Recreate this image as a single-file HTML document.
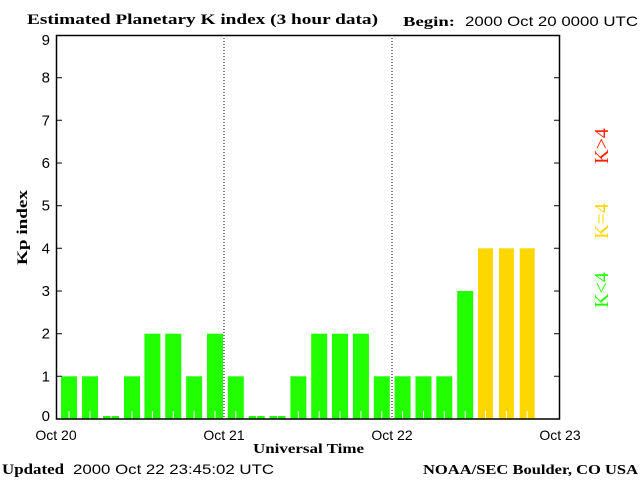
<!DOCTYPE html>
<html><head><style>body{margin:0;background:#fff}svg{display:block}</style></head><body>
<svg width="640" height="480" xmlns="http://www.w3.org/2000/svg" font-family="Liberation Sans, sans-serif">
<rect width="640" height="480" fill="#fff"/>
<text x="27" y="24" font-family="Liberation Serif, serif" font-weight="bold" font-size="15" textLength="351" lengthAdjust="spacingAndGlyphs">Estimated Planetary K index (3 hour data)</text>
<text x="403" y="26" font-family="Liberation Serif, serif" font-weight="bold" font-size="14" textLength="52" lengthAdjust="spacingAndGlyphs">Begin:</text>
<text x="465" y="26" font-size="14" textLength="173" lengthAdjust="spacingAndGlyphs">2000 Oct 20 0000 UTC</text>
<g fill="#22ff00">
<rect x="61" y="376.3" width="16" height="42.7"/>
<rect x="82" y="376.3" width="16" height="42.7"/>
<rect x="103" y="416" width="16" height="3"/>
<rect x="124" y="376.3" width="16" height="42.7"/>
<rect x="144.4" y="333.7" width="16" height="85.3"/>
<rect x="165.3" y="333.7" width="16" height="85.3"/>
<rect x="186.1" y="376.3" width="16" height="42.7"/>
<rect x="207" y="333.7" width="16" height="85.3"/>
<rect x="227.8" y="376.3" width="16" height="42.7"/>
<rect x="248.7" y="416" width="16" height="3"/>
<rect x="269.5" y="416" width="16" height="3"/>
<rect x="290.4" y="376.3" width="16" height="42.7"/>
<rect x="311.2" y="333.7" width="16" height="85.3"/>
<rect x="332" y="333.7" width="16" height="85.3"/>
<rect x="352.9" y="333.7" width="16" height="85.3"/>
<rect x="373.8" y="376.3" width="16" height="42.7"/>
<rect x="394.6" y="376.3" width="16" height="42.7"/>
<rect x="415.5" y="376.3" width="16" height="42.7"/>
<rect x="436.3" y="376.3" width="16" height="42.7"/>
<rect x="457.2" y="291" width="16" height="128"/>
</g>
<g fill="#ffd700">
<rect x="478" y="248.3" width="15" height="170.7"/>
<rect x="498.9" y="248.3" width="15" height="170.7"/>
<rect x="519.7" y="248.3" width="15" height="170.7"/>
</g>
<g stroke="#fff" stroke-width="1">
<path d="M69 411V419M90 411V419M111 411V419M132 411V419M152.4 411V419M173.3 411V419M194.1 411V419M215 411V419M235.8 411V419M256.7 411V419M277.5 411V419M298.4 411V419M319.2 411V419M340 411V419M360.9 411V419M381.8 411V419M402.6 411V419M423.5 411V419M444.3 411V419M465.2 411V419M485.5 411V419M506.4 411V419M527.2 411V419"/>
</g>
<line x1="224" y1="35" x2="224" y2="419" stroke="#000" stroke-dasharray="1,2"/>
<line x1="392" y1="35" x2="392" y2="419" stroke="#000" stroke-dasharray="1,2"/>
<rect x="56.5" y="35.5" width="503" height="383.5" fill="none" stroke="#000" stroke-width="1.5"/>
<g stroke="#000">
<path d="M56 376.3H62M56 333.7H62M56 291H62M56 248.3H62M56 205.7H62M56 163H62M56 120.3H62M56 77.7H62M554 376.3H560M554 333.7H560M554 291H560M554 248.3H560M554 205.7H560M554 163H560M554 120.3H560M554 77.7H560"/>
</g>
<g font-size="15" text-anchor="end">
<text x="50" y="421">0</text><text x="50" y="381.3">1</text><text x="50" y="338.7">2</text><text x="50" y="296">3</text><text x="50" y="253.3">4</text><text x="50" y="210.7">5</text><text x="50" y="168">6</text><text x="50" y="125.3">7</text><text x="50" y="82.7">8</text><text x="50" y="45">9</text>
</g>
<g font-size="14" text-anchor="middle">
<text x="56" y="440">Oct 20</text><text x="224" y="440">Oct 21</text><text x="392" y="440">Oct 22</text><text x="560" y="440">Oct 23</text>
</g>
<text x="253" y="453" font-family="Liberation Serif, serif" font-weight="bold" font-size="14" textLength="111" lengthAdjust="spacingAndGlyphs">Universal Time</text>
<text x="27" y="265" font-family="Liberation Serif, serif" font-weight="bold" font-size="15" transform="rotate(-90 27 265)" textLength="75" lengthAdjust="spacingAndGlyphs">Kp index</text>
<text x="2" y="474" font-family="Liberation Serif, serif" font-weight="bold" font-size="15" textLength="62" lengthAdjust="spacingAndGlyphs">Updated</text>
<text x="73" y="474" font-size="14" textLength="201" lengthAdjust="spacingAndGlyphs">2000 Oct 22 23:45:02 UTC</text>
<text x="423" y="474" font-family="Liberation Serif, serif" font-weight="bold" font-size="14" textLength="215" lengthAdjust="spacingAndGlyphs">NOAA/SEC Boulder, CO USA</text>
<g font-family="Liberation Serif, serif" font-size="20" text-anchor="middle">
<text x="608" y="290" fill="#22ff00" transform="rotate(-90 608 290)">K&lt;4</text>
<text x="608" y="221" fill="#ffd700" transform="rotate(-90 608 221)">K=4</text>
<text x="608" y="146" fill="#ff2200" transform="rotate(-90 608 146)">K&gt;4</text>
</g>
</svg>
</body></html>
